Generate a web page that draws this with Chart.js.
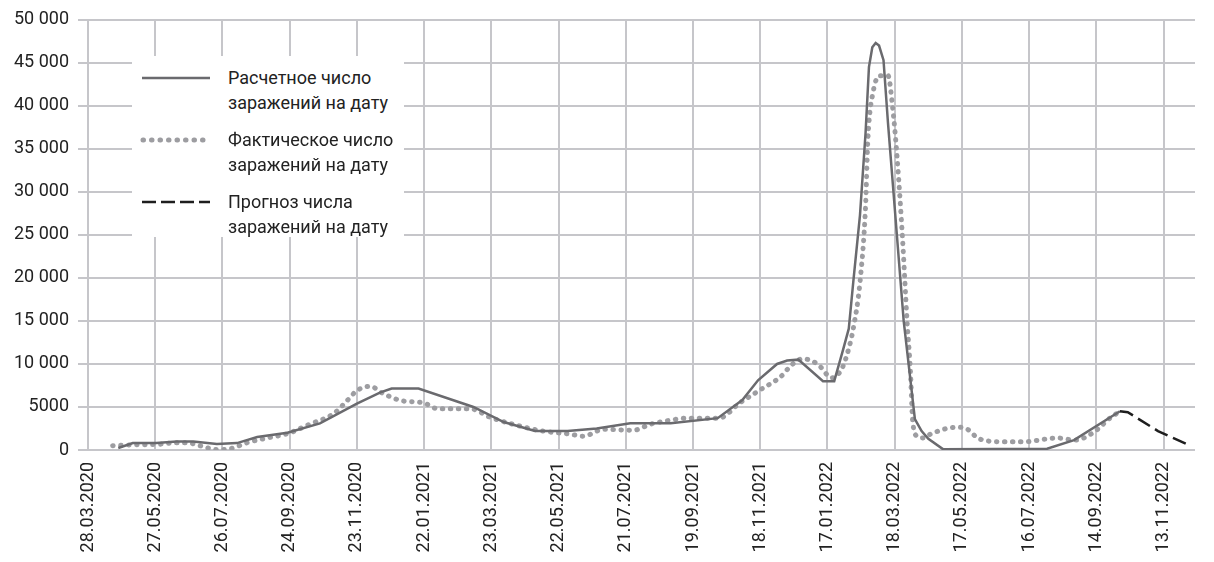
<!DOCTYPE html>
<html lang="ru">
<head>
<meta charset="utf-8">
<title>Число заражений</title>
<script src="https://cdn.jsdelivr.net/npm/chart.js@4.4.1/dist/chart.umd.min.js"></script>
<style>
    html, body {
        margin: 0;
        padding: 0;
        background: #ffffff;
    }
    #wrap {
        position: relative;
        width: 1214px;
        height: 562px;
    }
    #legend {
        position: absolute;
        left: 132px;
        top: 56px;
        width: 272px;
        height: 181px;
        background: #ffffff;
        font-family: Roboto, sans-serif;
        font-size: 18px;
        color: #222222;
    }
    .item {
        position: absolute;
        left: 8px;
        display: flex;
        align-items: flex-start;
    }
    .item svg {
        margin-top: 10px;
        margin-right: 16px;
    }
    .item div {
        line-height: 25px;
    }
</style>
</head>
<body>
<div id="wrap">
    <canvas id="myChart" width="1214" height="562"></canvas>
    <div id="legend">
        <div class="item" style="top: 9px;">
            <svg width="72" height="6"><line x1="2" y1="3" x2="70" y2="3" stroke="#6a6a6e" stroke-width="2.5"/></svg>
            <div>Расчетное число<br>заражений на дату</div>
        </div>
        <div class="item" style="top: 71px;">
            <svg width="72" height="6"><line x1="3" y1="3" x2="70" y2="3" stroke="#9d9da1" stroke-width="5" stroke-linecap="round" stroke-dasharray="0.5 8"/></svg>
            <div>Фактическое число<br>заражений на дату</div>
        </div>
        <div class="item" style="top: 133px;">
            <svg width="72" height="6"><line x1="2" y1="3" x2="70" y2="3" stroke="#1e1e1e" stroke-width="2.5" stroke-dasharray="14 5"/></svg>
            <div>Прогноз числа<br>заражений на дату</div>
        </div>
    </div>
</div>
<script>
// Подписи оси X (каждые 60 дней от 28.03.2020)
const tickLabels = [
    "28.03.2020", "27.05.2020", "26.07.2020", "24.09.2020", "23.11.2020",
    "22.01.2021", "23.03.2021", "22.05.2021", "21.07.2021", "19.09.2021",
    "18.11.2021", "17.01.2022", "18.03.2022", "17.05.2022", "16.07.2022",
    "14.09.2022", "13.11.2022"
];
const tickStep = 60;

// Расчетное число заражений (день от 28.03.2020 / значение)
const calcDays = [27, 40, 61, 79, 94, 115, 133, 151, 178, 207, 240, 261, 271, 295, 344, 371, 399, 428, 454, 484, 520, 562, 584, 598, 615, 624, 634, 656, 666, 674, 679, 683, 689, 694, 697, 700, 703, 706, 710, 714, 721, 728, 738, 744, 750, 763, 856, 880, 921];
const calcValues = [230, 800, 800, 1000, 1000, 700, 800, 1500, 2000, 3100, 5400, 6700, 7150, 7150, 5000, 3250, 2200, 2200, 2500, 3100, 3100, 3700, 5800, 8100, 10000, 10400, 10500, 8000, 8000, 11700, 14100, 19500, 27300, 36900, 44500, 46800, 47300, 47000, 45300, 38000, 26500, 15000, 3600, 2200, 1300, 100, 150, 1150, 4500];

// Фактическое число заражений
const factDays = [22, 40, 62, 79, 88, 100, 115, 127, 142, 160, 178, 198, 219, 231, 240, 252, 263, 281, 299, 312, 341, 359, 379, 406, 430, 442, 460, 487, 502, 517, 535, 563, 582, 600, 618, 629, 638, 651, 664, 673, 679, 683, 689, 694, 696, 701, 707, 714, 718, 722, 727, 731, 734, 736, 740, 745, 752, 768, 777, 785, 794, 803, 817, 835, 865, 881, 897, 912, 921];
const factValues = [500, 600, 650, 850, 850, 500, 50, 150, 850, 1400, 1900, 3000, 4200, 5700, 6900, 7400, 6600, 5700, 5500, 4800, 4800, 3800, 3000, 2200, 1850, 1600, 2400, 2300, 3000, 3400, 3700, 3700, 5500, 7000, 8500, 10000, 10600, 10000, 8400, 9500, 11800, 14100, 19500, 28400, 36000, 41800, 43500, 43500, 40000, 34200, 24500, 15000, 9200, 3400, 1600, 1400, 1850, 2550, 2650, 2400, 1400, 1050, 950, 950, 1400, 1150, 2000, 3700, 4500];

// Прогноз
const forecastDays = [921, 928, 955, 982];
const forecastValues = [4500, 4400, 2200, 600];

const fuente = "Roboto, sans-serif";
const colorTexto = "#222222";
const colorRejilla = "#c6c6ca";

function aPuntos(dias, valores) {
    return dias.map((d, i) => ({ x: d, y: valores[i] }));
}

function formatoMiles(valor) {
    if (valor >= 10000) {
        return Math.floor(valor / 1000) + " 000";
    }
    return String(valor);
}

const datasets = [
    {
        label: "Прогноз числа заражений на дату",
        data: aPuntos(forecastDays, forecastValues),
        borderColor: "#1e1e1e",
        borderWidth: 2.5,
        borderDash: [14, 6],
        tension: 0,
        pointRadius: 0,
        order: 1,
    },
    {
        label: "Расчетное число заражений на дату",
        data: aPuntos(calcDays, calcValues),
        borderColor: "#6a6a6e",
        borderWidth: 2.5,
        tension: 0,
        pointRadius: 0,
        order: 2,
    },
    {
        label: "Фактическое число заражений на дату",
        data: aPuntos(factDays, factValues),
        borderColor: "#9d9da1",
        borderWidth: 5,
        borderDash: [0.5, 7.5],
        borderCapStyle: "round",
        cubicInterpolationMode: "monotone",
        pointRadius: 0,
        order: 3,
    },
];

const config = {
    type: "line",
    data: { datasets },
    options: {
        responsive: false,
        animation: false,
        layout: {
            padding: { top: 17, right: 19, bottom: 0, left: 0 },
        },
        scales: {
            x: {
                type: "linear",
                min: 0,
                max: 988,
                afterBuildTicks: (axis) => {
                    axis.ticks = tickLabels.map((_, i) => ({ value: i * tickStep }));
                },
                afterFit: (axis) => {
                    axis.height = 112;
                },
                grid: {
                    color: colorRejilla,
                    lineWidth: 2,
                    drawTicks: false,
                },
                border: { display: false },
                ticks: {
                    minRotation: 90,
                    maxRotation: 90,
                    padding: 12,
                    autoSkip: false,
                    color: colorTexto,
                    font: { family: fuente, size: 18 },
                    callback: (value) => tickLabels[Math.round(value / tickStep)],
                },
            },
            y: {
                min: 0,
                max: 50000,
                afterFit: (axis) => {
                    axis.width = 88;
                },
                grid: {
                    color: colorRejilla,
                    lineWidth: 2,
                    tickLength: 10,
                },
                border: { display: false },
                ticks: {
                    stepSize: 5000,
                    padding: 9,
                    color: colorTexto,
                    font: { family: fuente, size: 18 },
                    callback: (value) => formatoMiles(value),
                },
            },
        },
        plugins: {
            legend: { display: false },
            tooltip: { enabled: false },
        },
    },
};

const myChart = document.getElementById("myChart");
new Chart(myChart, config);
</script>
</body>
</html>
